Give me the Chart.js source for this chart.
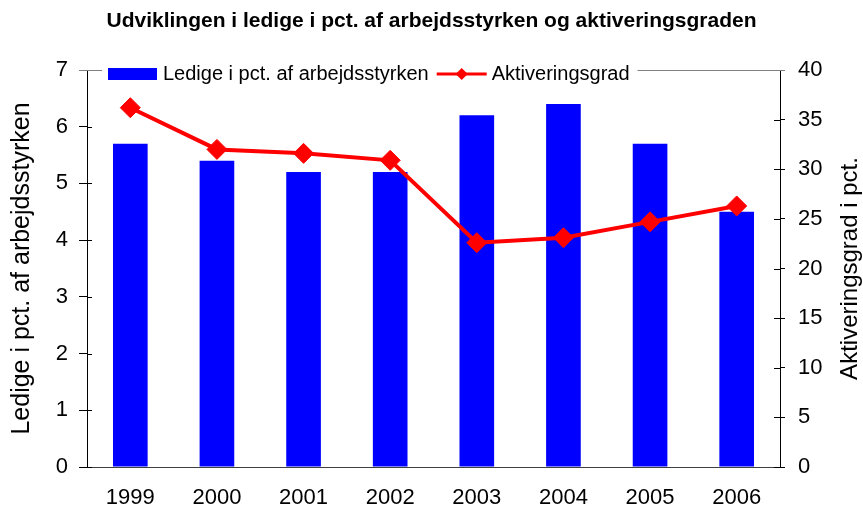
<!DOCTYPE html>
<html>
<head>
<meta charset="utf-8">
<script src="https://cdn.jsdelivr.net/npm/chart.js@4.4.1/dist/chart.umd.min.js"></script>
<style>
  html, body { margin: 0; padding: 0; background: #fff; }
</style>
</head>
<body>
<canvas id="chart" width="863" height="509"></canvas>
<script>
// Data
const years = ['1999', '2000', '2001', '2002', '2003', '2004', '2005', '2006'];
const ledige = [5.7, 5.4, 5.2, 5.2, 6.2, 6.4, 5.7, 4.5];
const aktivering = [36.2, 32.0, 31.6, 30.9, 22.6, 23.1, 24.7, 26.3];

const titleText = 'Udviklingen i ledige i pct. af arbejdsstyrken og aktiveringsgraden';
const leftTitle = 'Ledige i pct. af arbejdsstyrken';
const rightTitle = 'Aktiveringsgrad i pct.';

const FONT = '"Liberation Sans", Arial, sans-serif';

// inner tick marks, top frame line, custom legend and right axis title
const extras = {
    id: 'extras',
    afterDraw(chart) {
        const ctx = chart.ctx;
        const area = chart.chartArea;
        ctx.save();

        // ticks pointing into the plot area
        ctx.strokeStyle = '#000';
        ctx.lineWidth = 1;
        const y = chart.scales.y, y1 = chart.scales.y1;
        y.ticks.forEach((t, i) => {
            const py = Math.round(y.getPixelForTick(i)) + 0.5;
            ctx.beginPath(); ctx.moveTo(area.left, py); ctx.lineTo(area.left + 5, py); ctx.stroke();
        });
        y1.ticks.forEach((t, i) => {
            const py = Math.round(y1.getPixelForTick(i)) + 0.5;
            ctx.beginPath(); ctx.moveTo(area.right, py); ctx.lineTo(area.right - 6, py); ctx.stroke();
        });

        // legend
        ctx.font = '20px ' + FONT;
        ctx.textBaseline = 'middle';
        ctx.textAlign = 'left';
        const ly = 74;
        let x = area.left + 21;
        const legStart = x - 6;
        const bar = chart.data.datasets[1];
        const line = chart.data.datasets[0];
        ctx.fillStyle = bar.backgroundColor;
        ctx.fillRect(x, ly - 6, 49, 12);
        x += 49 + 6;
        ctx.fillStyle = '#000';
        ctx.fillText(bar.label, x, ly);
        x += ctx.measureText(bar.label).width + 8;
        ctx.strokeStyle = line.borderColor;
        ctx.lineWidth = 3;
        ctx.beginPath(); ctx.moveTo(x, ly); ctx.lineTo(x + 50, ly); ctx.stroke();
        ctx.fillStyle = line.borderColor;
        ctx.beginPath();
        ctx.moveTo(x + 25 - 6, ly); ctx.lineTo(x + 25, ly - 6);
        ctx.lineTo(x + 25 + 6, ly); ctx.lineTo(x + 25, ly + 6);
        ctx.closePath(); ctx.fill();
        x += 50 + 5;
        ctx.fillStyle = '#000';
        ctx.fillText(line.label, x, ly);
        const legEnd = x + ctx.measureText(line.label).width + 8;

        // top frame, broken by the legend
        ctx.strokeStyle = '#808080';
        ctx.lineWidth = 1;
        const ty = Math.round(area.top) + 0.5;
        ctx.beginPath();
        ctx.moveTo(area.left - 8, ty); ctx.lineTo(legStart, ty);
        ctx.moveTo(legEnd, ty); ctx.lineTo(area.right + 5, ty);
        ctx.stroke();

        // right axis title, reading bottom to top
        ctx.font = '24px ' + FONT;
        ctx.fillStyle = '#000';
        ctx.textAlign = 'center';
        ctx.translate(850, (area.top + area.bottom) / 2);
        ctx.rotate(-Math.PI / 2);
        ctx.fillText(rightTitle, 0, 0);
        ctx.restore();
    }
};

const ctx = document.getElementById('chart').getContext('2d');

new Chart(ctx, {
    data: {
        labels: years,
        datasets: [{
            type: 'line',
            label: 'Aktiveringsgrad',
            data: aktivering,
            yAxisID: 'y1',
            borderColor: '#FF0000',
            backgroundColor: '#FF0000',
            borderWidth: 4,
            pointStyle: 'rectRot',
            pointRadius: 10,
            pointBorderWidth: 1,
            pointBackgroundColor: '#FF0000',
            pointBorderColor: '#FF0000',
            fill: false,
            tension: 0,
            order: 0
        }, {
            type: 'bar',
            label: 'Ledige i pct. af arbejdsstyrken',
            data: ledige,
            yAxisID: 'y',
            backgroundColor: '#0000FF',
            barPercentage: 0.8,
            categoryPercentage: 0.5,
            order: 1
        }]
    },
    options: {
        responsive: false,
        animation: false,
        layout: { padding: 0 },
        plugins: {
            legend: { display: false },
            tooltip: { enabled: false },
            title: {
                display: true,
                text: titleText,
                color: '#000',
                font: { family: FONT, size: 21, weight: 'bold' },
                padding: { top: 9, bottom: 35.8 }
            }
        },
        scales: {
            x: {
                grid: { display: false },
                border: { color: '#404040' },
                ticks: { color: '#000', font: { family: FONT, size: 22 }, padding: 10, maxRotation: 0 },
                afterFit: s => { s.height = 42; }
            },
            y: {
                position: 'left',
                min: 0, max: 7,
                ticks: { stepSize: 1, color: '#000', font: { family: FONT, size: 22 }, padding: 11 },
                grid: { drawOnChartArea: false, tickLength: 8, color: '#000' },
                border: { color: '#000' },
                title: { display: true, text: leftTitle, color: '#000', font: { family: FONT, size: 25 }, padding: { top: 7 } },
                afterFit: s => { s.width = 87; }
            },
            y1: {
                position: 'right',
                min: 0, max: 40,
                ticks: { stepSize: 5, color: '#000', font: { family: FONT, size: 22 }, padding: 13 },
                grid: { drawOnChartArea: false, tickLength: 5, color: '#000' },
                border: { color: '#000' },
                afterFit: s => { s.width = 83; }
            }
        }
    },
    plugins: [extras]
});
</script>
</body>
</html>
